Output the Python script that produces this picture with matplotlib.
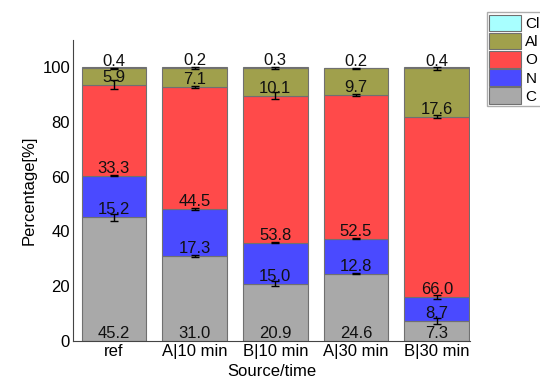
import matplotlib.pyplot as plt
import numpy as np

plt.rcParams["font.family"] = ["Liberation Sans", "DejaVu Sans"]

samples = ["ref", "A|10 min", "B|10 min", "A|30 min", "B|30 min"]
elements = ["C", "N", "O", "Al", "Cl"]

c_vals = [45.2, 31.0, 20.9, 24.6, 7.3]
n_vals = [15.2, 17.3, 15.0, 12.8, 8.7]
o_vals = [33.3, 44.5, 53.8, 52.5, 66.0]
al_vals = [5.9, 7.1, 10.1, 9.7, 17.6]
cl_vals = [0.4, 0.2, 0.3, 0.2, 0.4]

c_err = [1.2, 0.3, 1.0, 0.3, 1.0]
n_err = [0.3, 0.3, 0.3, 0.3, 0.6]
o_err = [1.5, 0.3, 1.2, 0.5, 0.4]
al_err = [0.3, 0.4, 0.3, 0.3, 0.7]
cl_err = [0.0, 0.0, 0.0, 0.0, 0.0]

colors = ["#a9a9a9", "#4a4aff", "#ff4a4a", "#a0a04c", "#a8ffff"]

values = [c_vals, n_vals, o_vals, al_vals, cl_vals]
errors = [c_err, n_err, o_err, al_err, cl_err]

fig = plt.figure(figsize=(5.4, 3.83), dpi=100)
ax = fig.add_axes([0.135, 0.110, 0.735, 0.7856])

x = np.arange(len(samples))
bottom = np.zeros(len(samples))
handles = []
for name, vals, errs, col in zip(elements, values, errors, colors):
    vals = np.array(vals)
    h = ax.bar(x, vals, 0.8, bottom=bottom, color=col, edgecolor="#707070",
               linewidth=0.8, label=name)
    handles.append(h)
    top = bottom + vals
    if max(errs) > 0:
        ax.errorbar(x, top, yerr=errs, fmt="none", ecolor="black",
                    elinewidth=1, capsize=3, capthick=1)
    for xi, b, v in zip(x, bottom, vals):
        ax.text(xi, b + 1.0, f"{v:.1f}", ha="center", va="baseline",
                fontsize=12, color="#111111")
    bottom = top

ax.set_xlim(-0.508, 4.409)
ax.set_ylim(0, 110)
ax.set_yticks([0, 20, 40, 60, 80, 100])
ax.set_xticks(x)
ax.set_xticklabels(samples)
ax.tick_params(length=0, labelsize=12, pad=2)
ax.spines["top"].set_visible(False)
ax.spines["right"].set_visible(False)
ax.spines["left"].set_color("#444444")
ax.spines["bottom"].set_color("#444444")
ax.set_ylabel("Percentage[%]", fontsize=12, labelpad=4)
ax.set_xlabel("Source/time", fontsize=12, labelpad=4)

leg = fig.legend(handles[::-1], elements[::-1], loc="upper left",
                 bbox_to_anchor=(0.902, 0.968), fontsize=11, frameon=True,
                 fancybox=False, edgecolor="#999999", handlelength=2.1,
                 handleheight=1.3, labelspacing=0.1, borderpad=0.15,
                 handletextpad=0.25, borderaxespad=0)
leg.get_frame().set_linewidth(1.0)

fig.savefig("out.png", dpi=100)
